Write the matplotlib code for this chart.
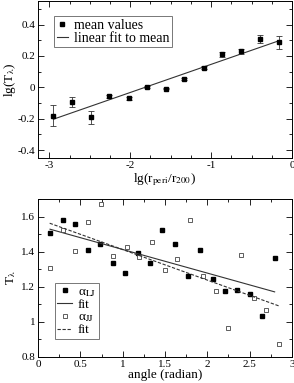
import matplotlib
matplotlib.use("Agg")
import matplotlib.pyplot as plt
from matplotlib.ticker import MultipleLocator

plt.rcParams['font.family'] = ['Liberation Serif', 'DejaVu Serif']
plt.rcParams['mathtext.fontset'] = 'stix'

# top panel: mean values with error bars
lg_r = [-2.95, -2.72, -2.49, -2.26, -2.02, -1.79, -1.56, -1.33, -1.09, -0.86, -0.63, -0.40, -0.16]
lg_T = [-0.18, -0.092, -0.19, -0.058, -0.07, 0.004, -0.008, 0.055, 0.124, 0.21, 0.23, 0.307, 0.288]
lg_T_err = [0.068, 0.03, 0.042, 0.01, 0.01, 0.005, 0.005, 0.006, 0.01, 0.015, 0.015, 0.025, 0.042]
fit_x = [-2.95, -0.16]
fit_y = [-0.203, 0.297]

# bottom panel
ang_lj = [0.142, 0.29, 0.437, 0.587, 0.732, 0.882, 1.027, 1.177, 1.322, 1.468,
          1.617, 1.767, 1.913, 2.063, 2.204, 2.353, 2.50, 2.645, 2.795]
T_lj = [1.509, 1.583, 1.56, 1.41, 1.442, 1.334, 1.277, 1.39, 1.334, 1.526,
        1.442, 1.259, 1.411, 1.246, 1.177, 1.183, 1.157, 1.034, 1.366]
ang_jj = [0.138, 0.295, 0.437, 0.59, 0.74, 0.889, 1.047, 1.192, 1.342, 1.496,
          1.641, 1.791, 1.945, 2.098, 2.243, 2.393, 2.547, 2.695, 2.845]
T_jj = [1.309, 1.522, 1.406, 1.57, 1.674, 1.377, 1.425, 1.371, 1.454, 1.297,
        1.36, 1.581, 1.261, 1.177, 0.968, 1.379, 1.137, 1.069, 0.876]
fit_lj_x = [0.142, 2.795]
fit_lj_y = [1.528, 1.171]
fit_jj_x = [0.138, 2.845]
fit_jj_y = [1.562, 1.091]

fig = plt.figure(figsize=(2.94, 3.83), dpi=100)
ax1 = fig.add_axes([38/294, 1-158/383, 254/294, 157/383])
ax2 = fig.add_axes([38/294, 1-357/383, 254/294, 158/383])


def style(ax):
    ax.tick_params(which='both', direction='in', top=True, right=True,
                   labelsize=8, width=0.6, pad=2)
    ax.tick_params(which='major', length=4)
    ax.tick_params(which='minor', length=2)
    for s in ax.spines.values():
        s.set_linewidth(0.7)


eb = ax1.errorbar(lg_r, lg_T, yerr=lg_T_err, fmt='s', color='black', ms=3,
                  ecolor='#333333', elinewidth=0.6, capsize=2.5, capthick=0.6)
ln, = ax1.plot(fit_x, fit_y, color='#333333', lw=0.8)
ax1.set_xlim(-3.14, 0)
ax1.set_ylim(-0.45, 0.55)
ax1.xaxis.set_minor_locator(MultipleLocator(0.25))
ax1.yaxis.set_minor_locator(MultipleLocator(0.1))
ax1.set_yticks([-0.4, -0.2, 0, 0.2, 0.4])
ax1.set_yticklabels(['-0.4', '-0.2', '0', '0.2', '0.4'])
ax1.set_xticks([-3, -2, -1, 0])
ax1.set_xticklabels(['-3', '-2', '-1', '0'])
ax1.set_xlabel(r'lg(r$_{\rm peri}$/r$_{200}$)', fontsize=9.5, labelpad=1)
ax1.set_ylabel(r'lg(T$_{\rm λ}$)', fontsize=9.5, labelpad=0)
style(ax1)
leg1 = ax1.legend([eb[0], ln], ['mean values', 'linear fit to mean'],
                  loc='upper left', bbox_to_anchor=(0.063, 0.905),
                  fontsize=10, frameon=True, fancybox=False, edgecolor='#555555',
                  handlelength=0.8, handletextpad=0.45, borderpad=0.2,
                  labelspacing=0.0, borderaxespad=0, markerscale=0.8)
leg1.get_frame().set_linewidth(0.7)

ax2.plot(ang_lj, T_lj, 's', color='black', ms=3, ls='none', label='α$_{\\rm LJ}$')
ax2.plot(fit_lj_x, fit_lj_y, color='#333333', lw=0.8, label='fit')
ax2.plot(ang_jj, T_jj, 's', mfc='white', mec='#444444', mew=0.6, ms=3.2,
         ls='none', label='α$_{\\rm JJ}$')
ax2.plot(fit_jj_x, fit_jj_y, color='#333333', lw=0.8, ls=(0, (3, 1.5)), label='fit')
ax2.set_xlim(0, 3)
ax2.set_ylim(0.8, 1.7)
ax2.xaxis.set_minor_locator(MultipleLocator(0.25))
ax2.yaxis.set_minor_locator(MultipleLocator(0.1))
ax2.set_xticks([0, 0.5, 1, 1.5, 2, 2.5, 3])
ax2.set_xticklabels(['0', '0.5', '1', '1.5', '2', '2.5', '3'])
ax2.set_yticks([0.8, 1.0, 1.2, 1.4, 1.6])
ax2.set_yticklabels(['0.8', '1', '1.2', '1.4', '1.6'])
ax2.set_xlabel('angle (radian)', fontsize=9.5, labelpad=0)
ax2.set_ylabel(r'T$_{\rm λ}$', fontsize=9.5, labelpad=2)
style(ax2)
leg2 = ax2.legend(loc='lower left', bbox_to_anchor=(0.066, 0.115),
                  fontsize=9.5, frameon=True, fancybox=False, edgecolor='#555555',
                  handlelength=1.1, handletextpad=0.45, borderpad=0.2,
                  labelspacing=0.0, borderaxespad=0, markerscale=0.8)
leg2.get_frame().set_linewidth(0.7)

fig.savefig('out.png', dpi=100)
